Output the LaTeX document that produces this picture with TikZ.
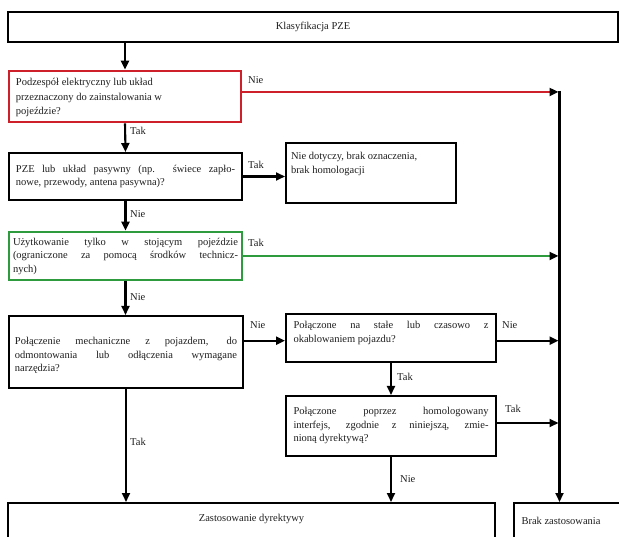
\documentclass[tikz,border=0pt]{standalone}
\usepackage{fontspec}
\setmainfont{Liberation Serif}
\usetikzlibrary{arrows.meta}
\definecolor{pzered}{RGB}{205,32,42}
\definecolor{pzegreen}{RGB}{46,155,62}
\definecolor{pzetext}{RGB}{30,30,30}
\newcommand{\jl}[1]{\makebox[\linewidth][s]{#1}}
\newcommand{\bxt}[4]{\parbox[c][#3][#1]{#2}{#4}}
\begin{document}
\begin{tikzpicture}[x=1pt,y=-1pt,
  box/.style={draw=black, line width=2pt, rectangle, inner sep=0pt,
    font=\fontsize{10.5}{13.5}\selectfont, text=pzetext},
  lbl/.style={inner sep=0pt, anchor=west, font=\fontsize{10.5}{13.5}\selectfont, text=pzetext},
  arr/.style={line width=2.1pt, draw=black, -{Triangle[length=9pt,width=8pt,color=black]}}
]
\clip (0,0) rectangle (619,537);
\useasboundingbox (0,0) rectangle (619,537);

% boxes
\node[box, minimum width=610pt, minimum height=30pt] (cls) at (313,27) {Klasyfikacja PZE};

\node[box, draw=pzered, line width=2.6pt, minimum width=232pt, minimum height=51pt] (q1) at (125,96.5)
  {\bxt{t}{218pt}{51pt}{\fontsize{10.5}{14.3}\selectfont\rule{0pt}{15pt}Podzespół elektryczny lub układ\\ przeznaczony do zainstalowania w\\ pojeździe?}};

\node[box, minimum width=233pt, minimum height=47pt] (q2) at (125.5,176.5)
  {\bxt{c}{219pt}{47pt}{\jl{PZE lub układ pasywny (np. świece zapło-}\\ nowe, przewody, antena pasywna)?}};

\node[box, minimum width=170pt, minimum height=60pt] (na) at (371,173)
  {\bxt{t}{160pt}{60pt}{\rule{0pt}{16.7pt}Nie dotyczy, brak oznaczenia,\\ brak homologacji}};

\node[box, draw=pzegreen, line width=2.6pt, minimum width=233pt, minimum height=48pt] (q3) at (125.5,256)
  {\bxt{c}{225pt}{48pt}{\jl{Użytkowanie tylko w stojącym pojeździe}\\ \jl{(ograniczone za pomocą środków technicz-}\\ nych)}};

\node[box, minimum width=234pt, minimum height=72pt] (q4) at (126,352)
  {\bxt{t}{222pt}{72pt}{\rule{0pt}{28.7pt}\jl{Połączenie mechaniczne z pojazdem, do}\\ \jl{odmontowania lub odłączenia wymagane}\\ narzędzia?}};

\node[box, minimum width=210pt, minimum height=48pt] (q5) at (391,338)
  {\bxt{t}{195pt}{48pt}{\rule{0pt}{15pt}\jl{Połączone na stałe lub czasowo z}\\ okablowaniem pojazdu?}};

\node[box, minimum width=210pt, minimum height=60pt] (q6) at (391,426)
  {\bxt{t}{195pt}{60pt}{\rule{0pt}{18.7pt}\jl{Połączone poprzez homologowany}\\ \jl{interfejs, zgodnie z niniejszą, zmie-}\\ nioną dyrektywą?}};

\node[box, minimum width=487pt, minimum height=36pt] (yes) at (251.5,521)
  {\bxt{t}{470pt}{36pt}{\centering\rule{0pt}{18pt}Zastosowanie dyrektywy}};

\node[box, minimum width=108pt, minimum height=36pt] (no) at (568,521)
  {\bxt{t}{93pt}{36pt}{\rule{0pt}{21.7pt}Brak zastosowania}};

% junctions on the right collector line
\coordinate (vtop) at (559.5,92);
\coordinate (j2) at (559.5,256);
\coordinate (j3) at (559.5,340.7);
\coordinate (j4) at (559.5,423);

% connectors
\draw[arr] (q1.north |- cls.south) -- (q1.north);
\draw[arr, draw=pzered, line width=2.8pt, shorten >=1pt] (q1.east |- vtop) -- (vtop);
\draw[arr] ([yshift=1.2pt]vtop) -- (vtop |- no.north);
\draw[arr] (q1.south) -- (q2.north);
\draw[arr] (q2.east) -- (q2.east -| na.west);
\draw[arr] (q2.south) -- (q3.north);
\draw[arr, draw=pzegreen, line width=2.8pt, shorten >=1pt] (q3.east) -- (j2);
\draw[arr] (q3.south) -- (q3.south |- q4.north);
\draw[arr] (q4.east |- j3) -- (q5.west |- j3);
\draw[arr, shorten >=1pt] (q5.east |- j3) -- (j3);
\draw[arr] (q5.south) -- (q6.north);
\draw[arr, shorten >=1pt] (q6.east |- j4) -- (j4);
\draw[arr] (q6.south) -- (q6.south |- yes.north);
\draw[arr] (q4.south) -- (q4.south |- yes.north);

% labels
\node[lbl] (l1) at (248,80) {Nie};
\node[lbl] (l2) at (130,131) {Tak};
\node[lbl] (l3) at (248,165) {Tak};
\node[lbl] (l4) at (130,214) {Nie};
\node[lbl] (l5) at (248,243) {Tak};
\node[lbl] (l6) at (130,297) {Nie};
\node[lbl] (l7) at (250,325) {Nie};
\node[lbl] (l8) at (502,325) {Nie};
\node[lbl] (l9) at (397,377) {Tak};
\node[lbl] (l10) at (505,409) {Tak};
\node[lbl] (l11) at (400,479) {Nie};
\node[lbl] (l12) at (130,442) {Tak};
\end{tikzpicture}
\end{document}
